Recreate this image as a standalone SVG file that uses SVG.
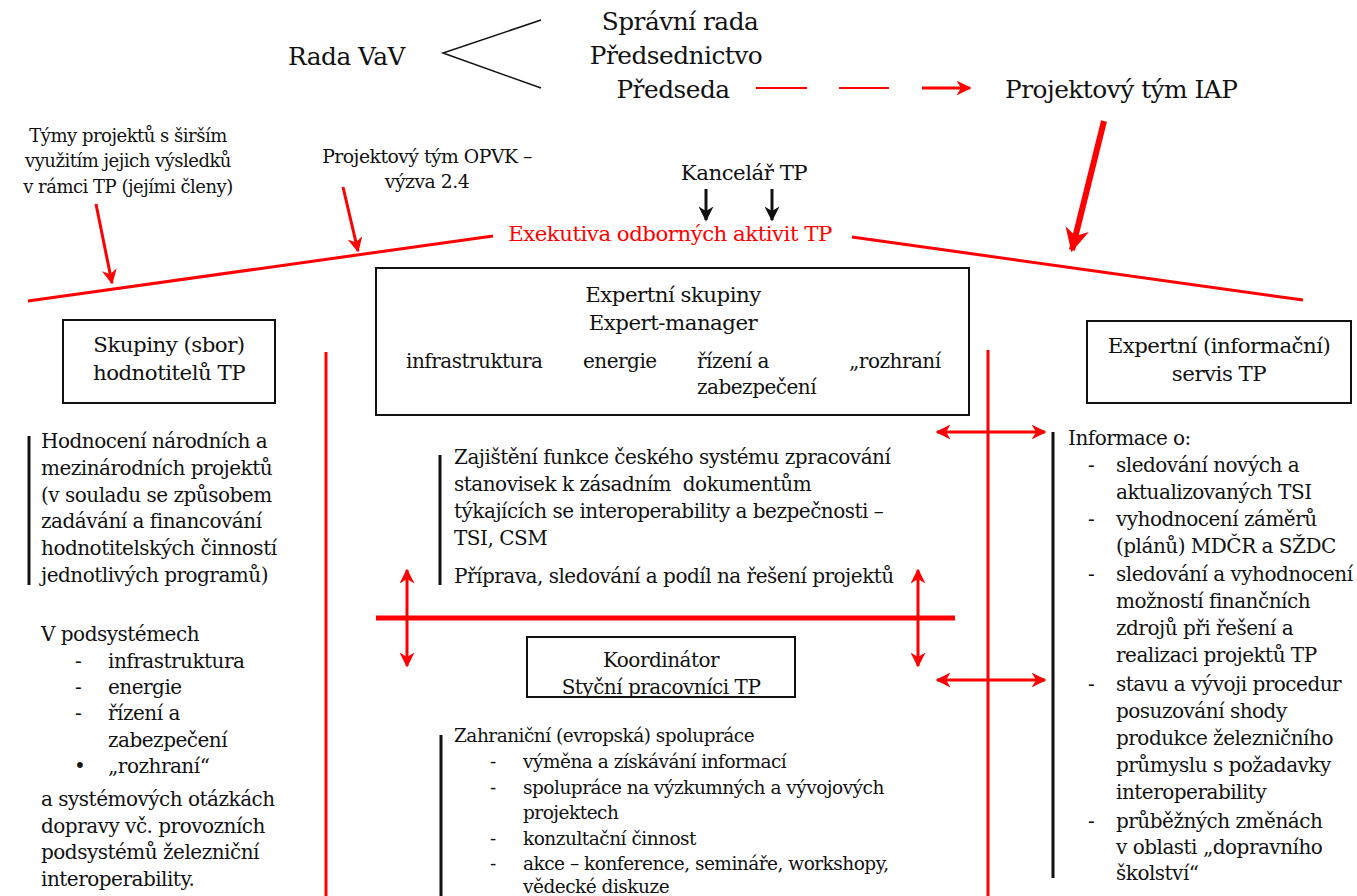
<svg xmlns="http://www.w3.org/2000/svg" width="1357" height="896" viewBox="0 0 1357 896" font-family="DejaVu Serif, serif">
  <style>
    text { font-family: "DejaVu Serif", serif; fill: #111; letter-spacing: -0.5px; }
    .top { font-size: 24.8px; }
    .title { font-size: 21.3px; }
    .body { font-size: 20px; }
    .note { font-size: 18px; }
    .note2 { font-size: 18.8px; }
    .small { font-size: 18.5px; }
    .mid { text-anchor: middle; }
    .red { fill: #ff0000; }
    .box { fill: none; stroke: #111; stroke-width: 2; }
    .bar { stroke: #111; stroke-width: 3; fill: none; }
    .rl { stroke: #ff0000; stroke-width: 3; fill: none; }
    .pre { white-space: pre; }
  </style>
  <defs>
    <marker id="redHead" viewBox="0 0 10 10" refX="9" refY="5" markerWidth="5" markerHeight="5" orient="auto-start-reverse" markerUnits="strokeWidth">
      <path d="M0,0 L10,5 L0,10 L3,5 z" fill="#ff0000"/>
    </marker>
    <marker id="redHeadBig" viewBox="0 0 10 10" refX="9" refY="5" markerWidth="4" markerHeight="4" orient="auto" markerUnits="strokeWidth">
      <path d="M0,0 L10,5 L0,10 L3,5 z" fill="#ff0000"/>
    </marker>
    <marker id="blackHead" viewBox="0 0 10 10" refX="9" refY="5" markerWidth="5" markerHeight="5" orient="auto" markerUnits="strokeWidth">
      <path d="M0,0 L10,5 L0,10 L3,5 z" fill="#111"/>
    </marker>
    <clipPath id="coordClip">
      <rect x="528" y="638" width="266" height="58"/>
    </clipPath>
  </defs>

  <!-- governing bodies -->
  <g id="rada-vav">
    <text class="top" x="288" y="65">Rada VaV</text>
  </g>
  <g id="vedeni">
    <text class="top mid" x="680" y="30">Správní rada</text>
    <text class="top mid" x="676" y="64">Předsednictvo</text>
    <text class="top mid" x="673" y="98">Předseda</text>
  </g>
  <g id="tym-iap">
    <text class="top" x="1005" y="98">Projektový tým IAP</text>
  </g>

  <!-- contributing teams -->
  <g id="tymy-projektu">
    <text class="note mid" x="128" y="142">Týmy projektů s širším</text>
    <text class="note mid" x="128" y="167">využitím jejich výsledků</text>
    <text class="note mid" x="128" y="193">v rámci TP (jejími členy)</text>
  </g>
  <g id="tym-opvk">
    <text class="note2 mid" x="427" y="163">Projektový tým OPVK –</text>
    <text class="note2 mid" x="427" y="188">výzva 2.4</text>
  </g>
  <g id="kancelar">
    <text class="title mid" x="744" y="180">Kancelář TP</text>
  </g>
  <g id="exekutiva">
    <text class="title mid red" x="670" y="241">Exekutiva odborných aktivit TP</text>
  </g>

  <!-- expert groups -->
  <g id="expertni-skupiny">
    <rect class="box" x="376" y="268" width="593" height="147"/>
    <text class="title mid" x="673" y="302">Expertní skupiny</text>
    <text class="title mid" x="673" y="330">Expert-manager</text>
    <text class="body" x="406" y="368">infrastruktura</text>
    <text class="body" x="583" y="368">energie</text>
    <text class="body" x="697" y="368">řízení a</text>
    <text class="body" x="697" y="394">zabezpečení</text>
    <text class="body" x="849" y="368">„rozhraní</text>
  </g>

  <g id="hodnotitele">
    <rect class="box" x="63" y="320" width="212" height="83"/>
    <text class="title mid" x="169" y="352">Skupiny (sbor)</text>
    <text class="title mid" x="169" y="380">hodnotitelů TP</text>
  </g>

  <g id="hodnoceni">
    <line class="bar" x1="29" y1="436" x2="29" y2="585"/>
    <text class="body" x="41" y="448">Hodnocení národních a</text>
    <text class="body" x="41" y="475">mezinárodních projektů</text>
    <text class="body" x="41" y="502">(v souladu se způsobem</text>
    <text class="body" x="41" y="528">zadávání a financování</text>
    <text class="body" x="41" y="555">hodnotitelských činností</text>
    <text class="body" x="41" y="582">jednotlivých programů)</text>
  </g>

  <g id="podsystemy">
    <text class="body" x="41" y="641">V podsystémech</text>
    <text class="body" x="75" y="668">-</text>
    <text class="body" x="108" y="668">infrastruktura</text>
    <text class="body" x="75" y="694">-</text>
    <text class="body" x="108" y="694">energie</text>
    <text class="body" x="75" y="720">-</text>
    <text class="body" x="108" y="720">řízení a</text>
    <text class="body" x="108" y="747">zabezpečení</text>
    <text class="body" x="74" y="773">•</text>
    <text class="body" x="108" y="773">„rozhraní“</text>
    <text class="body" x="41" y="806">a systémových otázkách</text>
    <text class="body" x="41" y="833">dopravy vč. provozních</text>
    <text class="body" x="41" y="859">podsystémů železniční</text>
    <text class="body" x="41" y="886">interoperability.</text>
  </g>

  <g id="stanoviska">
    <line class="bar" x1="440" y1="455" x2="440" y2="585"/>
    <text class="body" x="454" y="464">Zajištění funkce českého systému zpracování</text>
    <text class="body pre" x="454" y="491">stanovisek k zásadním  dokumentům</text>
    <text class="body" x="454" y="518">týkajících se interoperability a bezpečnosti –</text>
    <text class="body" x="454" y="545">TSI, CSM</text>
    <text class="body" x="454" y="583">Příprava, sledování a podíl na řešení projektů</text>
  </g>

  <g id="koordinator">
    <rect class="box" x="527" y="637" width="268" height="60"/>
    <text class="body mid" x="661" y="667">Koordinátor</text>
    <text class="body mid" x="661" y="694" clip-path="url(#coordClip)">Styční pracovníci TP</text>
  </g>

  <g id="spoluprace">
    <line class="bar" x1="441" y1="735" x2="441" y2="896"/>
    <text class="small" x="454" y="742">Zahraniční (evropská) spolupráce</text>
    <text class="small" x="490" y="768">-</text>
    <text class="small" x="523" y="768">výměna a získávání informací</text>
    <text class="small" x="490" y="794">-</text>
    <text class="small" x="523" y="794">spolupráce na výzkumných a vývojových</text>
    <text class="small" x="523" y="819">projektech</text>
    <text class="small" x="490" y="845">-</text>
    <text class="small" x="523" y="845">konzultační činnost</text>
    <text class="small" x="490" y="870">-</text>
    <text class="small" x="523" y="870">akce – konference, semináře, workshopy,</text>
    <text class="small" x="523" y="893">vědecké diskuze</text>
  </g>

  <g id="expertni-servis">
    <rect class="box" x="1087" y="321" width="264" height="82"/>
    <text class="title mid" x="1219" y="353">Expertní (informační)</text>
    <text class="title mid" x="1219" y="381">servis TP</text>
  </g>

  <g id="informace">
    <line class="bar" x1="1053" y1="432" x2="1053" y2="878"/>
    <text class="body" x="1068" y="445">Informace o:</text>
    <text class="body" x="1088" y="472">-</text>
    <text class="body" x="1116" y="472">sledování nových a</text>
    <text class="body" x="1116" y="499">aktualizovaných TSI</text>
    <text class="body" x="1088" y="526">-</text>
    <text class="body" x="1116" y="526">vyhodnocení záměrů</text>
    <text class="body" x="1116" y="553">(plánů) MDČR a SŽDC</text>
    <text class="body" x="1088" y="581">-</text>
    <text class="body" x="1116" y="581">sledování a vyhodnocení</text>
    <text class="body" x="1116" y="608">možností finančních</text>
    <text class="body" x="1116" y="635">zdrojů při řešení a</text>
    <text class="body" x="1116" y="662">realizaci projektů TP</text>
    <text class="body" x="1088" y="691">-</text>
    <text class="body" x="1116" y="691">stavu a vývoji procedur</text>
    <text class="body" x="1116" y="718">posuzování shody</text>
    <text class="body" x="1116" y="745">produkce železničního</text>
    <text class="body" x="1116" y="772">průmyslu s požadavky</text>
    <text class="body" x="1116" y="799">interoperability</text>
    <text class="body" x="1088" y="828">-</text>
    <text class="body" x="1116" y="828">průběžných změnách</text>
    <text class="body" x="1116" y="854">v oblasti „dopravního</text>
    <text class="body" x="1116" y="880">školství“</text>
  </g>

  <!-- connectors -->
  <g id="connectors">
    <!-- Rada VaV to governing bodies -->
    <polyline points="541,20 443,53 541,88" fill="none" stroke="#111" stroke-width="1.5"/>
    <!-- Předseda to IAP team (dashed) -->
    <line class="rl" x1="756" y1="88" x2="807" y2="88" style="stroke-width:2"/>
    <line class="rl" x1="839" y1="88" x2="889" y2="88" style="stroke-width:2"/>
    <line class="rl" x1="922" y1="88" x2="970" y2="88" marker-end="url(#redHead)"/>
    <!-- IAP team to executive -->
    <line class="rl" x1="1104" y1="121" x2="1072" y2="250" style="stroke-width:6" marker-end="url(#redHeadBig)"/>
    <!-- Kancelář TP arrows -->
    <line x1="706" y1="189" x2="706" y2="220" stroke="#111" stroke-width="3" marker-end="url(#blackHead)"/>
    <line x1="772" y1="189" x2="772" y2="220" stroke="#111" stroke-width="3" marker-end="url(#blackHead)"/>
    <!-- executive roof lines -->
    <line class="rl" x1="28" y1="301" x2="493" y2="236"/>
    <line class="rl" x1="852" y1="237" x2="1303" y2="300"/>
    <!-- teams feeding the executive -->
    <line class="rl" x1="96" y1="204" x2="112" y2="283" marker-end="url(#redHead)"/>
    <line class="rl" x1="343" y1="187" x2="358" y2="251" marker-end="url(#redHead)"/>
    <!-- column dividers -->
    <line class="rl" x1="326" y1="352" x2="326" y2="896"/>
    <line class="rl" x1="988" y1="350" x2="988" y2="896"/>
    <!-- central divider -->
    <line class="rl" x1="376" y1="618" x2="955" y2="618" style="stroke-width:5"/>
    <!-- two-way links -->
    <line class="rl" x1="407" y1="570" x2="407" y2="666" marker-start="url(#redHead)" marker-end="url(#redHead)"/>
    <line class="rl" x1="918" y1="570" x2="918" y2="666" marker-start="url(#redHead)" marker-end="url(#redHead)"/>
    <line class="rl" x1="937" y1="432" x2="1045" y2="432" marker-start="url(#redHead)" marker-end="url(#redHead)"/>
    <line class="rl" x1="937" y1="680" x2="1045" y2="680" marker-start="url(#redHead)" marker-end="url(#redHead)"/>
  </g>
</svg>
